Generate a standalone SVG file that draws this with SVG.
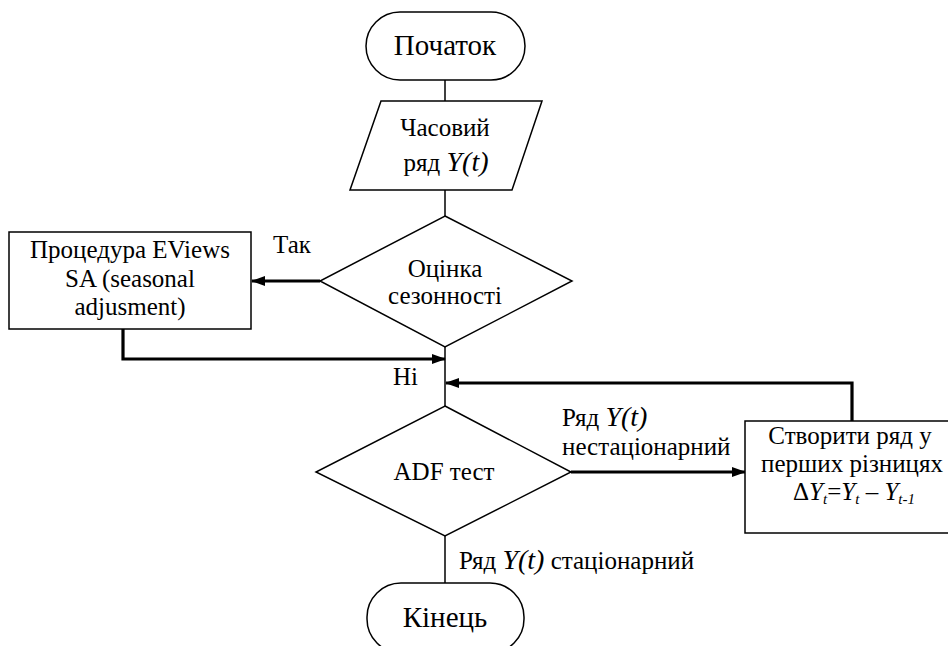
<svg xmlns="http://www.w3.org/2000/svg" width="948" height="646" viewBox="0 0 948 646">
  <style>
    .shape { fill: #fff; stroke: #000; stroke-width: 1.5; }
    .thin { fill: none; stroke: #000; stroke-width: 1.5; }
    .thick { fill: none; stroke: #000; stroke-width: 3.2; }
    text { font-size: 25px; fill: #000; }
    .big { font-size: 29px; }
    .mid { text-anchor: middle; }
    .it { font-style: italic; font-size: 28px; }
    .fy { font-style: italic; font-size: 25px; }
    .sub { font-style: italic; font-size: 15px; }
  </style>
  <defs>
    <marker id="arrow" viewBox="0 0 14 10" refX="13" refY="5" markerWidth="14" markerHeight="10" markerUnits="userSpaceOnUse" orient="auto">
      <path d="M0,0 L14,5 L0,10 Z" fill="#000"/>
    </marker>
  </defs>
  <rect width="948" height="646" fill="#fff"/>

  <!-- connectors -->
  <g id="connectors">
    <line class="thin" x1="445" y1="80" x2="445" y2="101"/>
    <line class="thin" x1="445" y1="190" x2="445" y2="216"/>
    <line class="thick" x1="320" y1="281" x2="252" y2="281" marker-end="url(#arrow)"/>
    <polyline class="thick" points="123,329 123,359 445,359" marker-end="url(#arrow)"/>
    <line class="thin" x1="445" y1="347" x2="445" y2="406"/>
    <polyline class="thick" points="852,421 852,383 446,383" marker-end="url(#arrow)"/>
    <line class="thick" x1="571" y1="472" x2="745" y2="472" marker-end="url(#arrow)"/>
    <line class="thin" x1="445" y1="536" x2="445" y2="583"/>
  </g>

  <g font-family="'Liberation Serif', 'Times New Roman', serif">
    <!-- connector labels -->
    <g id="labels">
      <text x="273" y="253">Так</text>
      <text x="393" y="385">Ні</text>
      <text x="562" y="426">Ряд <tspan class="it">Y(t)</tspan></text>
      <text x="562" y="455">нестаціонарний</text>
      <text x="459" y="569">Ряд <tspan class="it">Y(t)</tspan> стаціонарний</text>
    </g>

    <g id="start">
      <rect class="shape" x="366" y="12" width="159" height="68" rx="34" ry="34"/>
      <text class="big mid" x="445" y="55">Початок</text>
    </g>

    <g id="input">
      <polygon class="shape" points="381,101 542,101 512,190 350,190"/>
      <text class="mid" x="445" y="136">Часовий</text>
      <text class="mid" x="446" y="171">ряд <tspan class="it">Y(t)</tspan></text>
    </g>

    <g id="season-check">
      <polygon class="shape" points="445,216 572,281 445,347 320,281"/>
      <text class="mid" x="445" y="277">Оцінка</text>
      <text class="mid" x="445" y="304">сезонності</text>
    </g>

    <g id="eviews-sa">
      <rect class="shape" x="9" y="232" width="242" height="97"/>
      <text class="mid" x="130" y="258">Процедура EViews</text>
      <text class="mid" x="130" y="287">SA (seasonal</text>
      <text class="mid" x="130" y="315">adjusment)</text>
    </g>

    <g id="adf-test">
      <polygon class="shape" points="445,406 571,472 445,536 316,472"/>
      <text class="mid" x="444" y="480">ADF тест</text>
    </g>

    <g id="differences">
      <rect class="shape" x="745" y="421" width="215" height="112"/>
      <text class="mid" x="850" y="444">Створити ряд у</text>
      <text class="mid" x="852" y="472">перших різницях</text>
      <text class="mid" x="854" y="500">Δ<tspan class="fy">Y</tspan><tspan class="sub" dy="4">t</tspan><tspan dy="-4">=</tspan><tspan class="fy">Y</tspan><tspan class="sub" dy="4">t</tspan><tspan dy="-4"> – </tspan><tspan class="fy">Y</tspan><tspan class="sub" dy="4">t-1</tspan></text>
    </g>

    <g id="end">
      <rect class="shape" x="367" y="583" width="157" height="70" rx="34" ry="34"/>
      <text class="big mid" x="445" y="627">Кінець</text>
    </g>
  </g>
</svg>
